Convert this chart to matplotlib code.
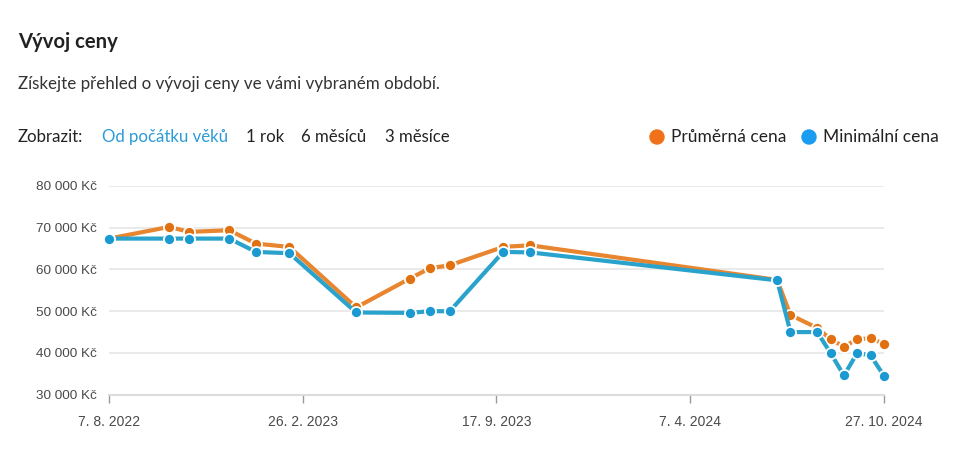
import matplotlib
matplotlib.use("Agg")
import matplotlib.pyplot as plt
import pandas as pd

dates = ["2022-08-07", "2022-10-09", "2022-10-30", "2022-12-11", "2023-01-08",
         "2023-02-12", "2023-04-23", "2023-06-18", "2023-07-09", "2023-07-30",
         "2023-09-24", "2023-10-22", "2024-07-07", "2024-07-21", "2024-08-18",
         "2024-09-01", "2024-09-15", "2024-09-29", "2024-10-13", "2024-10-27"]
avg_price = [67400, 70200, 69000, 69400, 66200, 65400, 50900, 57800, 60300, 61000,
             65400, 65800, 57500, 49100, 46000, 43300, 41500, 43300, 43500, 42200]
min_price = [67400, 67400, 67400, 67400, 64200, 63900, 49700, 49600, 50000, 50000,
             64200, 64100, 57400, 45000, 45000, 40000, 34600, 40000, 39400, 34500]

x_tick_dates = ["2022-08-07", "2023-02-26", "2023-09-17", "2024-04-07", "2024-10-27"]
x_tick_labels = ["7. 8. 2022", "26. 2. 2023", "17. 9. 2023", "7. 4. 2024", "27. 10. 2024"]
y_ticks = [30000, 40000, 50000, 60000, 70000, 80000]
y_tick_labels = ["30 000 Kč", "40 000 Kč", "50 000 Kč", "60 000 Kč", "70 000 Kč", "80 000 Kč"]

title = "Vývoj ceny"
subtitle = "Získejte přehled o vývoji ceny ve vámi vybraném období."
show_label = "Zobrazit:"
ranges = ["Od počátku věků", "1 rok", "6 měsíců", "3 měsíce"]
series_names = ["Průměrná cena", "Minimální cena"]

W, H = 976, 475
fig = plt.figure(figsize=(W / 100, H / 100), dpi=100)
fig.patch.set_facecolor("white")

hdr_font = ["Lato", "DejaVu Sans"]

def fx(px):
    return px / W

def fy(py):
    return 1 - py / H

fig.text(fx(18), fy(42), title, fontsize=14.6, fontweight="bold", color="#222222",
         family=hdr_font, va="center", ha="left")
fig.text(fx(18), fy(84), subtitle, fontsize=12.2, color="#333333",
         family=hdr_font, va="center", ha="left")
fig.text(fx(18), fy(137), show_label, fontsize=12.1, color="#222222",
         family=hdr_font, va="center", ha="left")
range_x = [102, 246, 301, 385]
for i, (lbl, px) in enumerate(zip(ranges, range_x)):
    fig.text(fx(px), fy(137), lbl, fontsize=12.1,
             color="#2b9ad8" if i == 0 else "#222222",
             family=hdr_font, va="center", ha="left")

# legend
leg_colors = ["#f0711a", "#1a9cf0"]
leg_x = [657, 809]
for name, c, px in zip(series_names, leg_colors, leg_x):
    fig.patches.append(matplotlib.patches.Ellipse((fx(px), fy(137)), 14 / W, 14 / H,
                                                  transform=fig.transFigure,
                                                  color=c, figure=fig))
    fig.text(fx(px + 14), fy(137), name, fontsize=12.5, color="#222222",
             family=hdr_font, va="center", ha="left")

ax = fig.add_axes([fx(109), fy(394.7), fx(884) - fx(109), fy(186) - fy(394.7)])
d = pd.to_datetime(dates)

ax.plot(d, avg_price, color="#e8852f", lw=3, marker="o", ms=8,
        mfc="#e07010", mec="white", mew=1.3, clip_on=False, zorder=3)
ax.plot(d, min_price, color="#2aa3cc", lw=3, marker="o", ms=8,
        mfc="#1a9ad0", mec="white", mew=1.3, clip_on=False, zorder=4)

ax.set_xlim(pd.Timestamp(dates[0]), pd.Timestamp(dates[-1]))
ax.set_ylim(30000, 80000)
ax.set_yticks(y_ticks)
ax.set_yticklabels(y_tick_labels)
ax.set_xticks(pd.to_datetime(x_tick_dates))
ax.set_xticklabels(x_tick_labels)

for s in ["top", "right", "left"]:
    ax.spines[s].set_visible(False)
ax.spines["bottom"].set_color("#dcdcdc")
ax.spines["bottom"].set_linewidth(1.5)
ax.grid(axis="y", color="#e6e6e6", lw=1.2)
ax.set_axisbelow(True)
ax.tick_params(axis="y", length=0, pad=8.5, labelsize=9.7, labelcolor="#4a4a4a")
ax.tick_params(axis="x", length=6, width=1, color="#999999", direction="out",
               pad=8.5, labelsize=10, labelcolor="#4a4a4a")
for lab in ax.get_xticklabels() + ax.get_yticklabels():
    lab.set_family(["Liberation Sans", "DejaVu Sans"])

fig.savefig("out.png", dpi=100, facecolor="white")
